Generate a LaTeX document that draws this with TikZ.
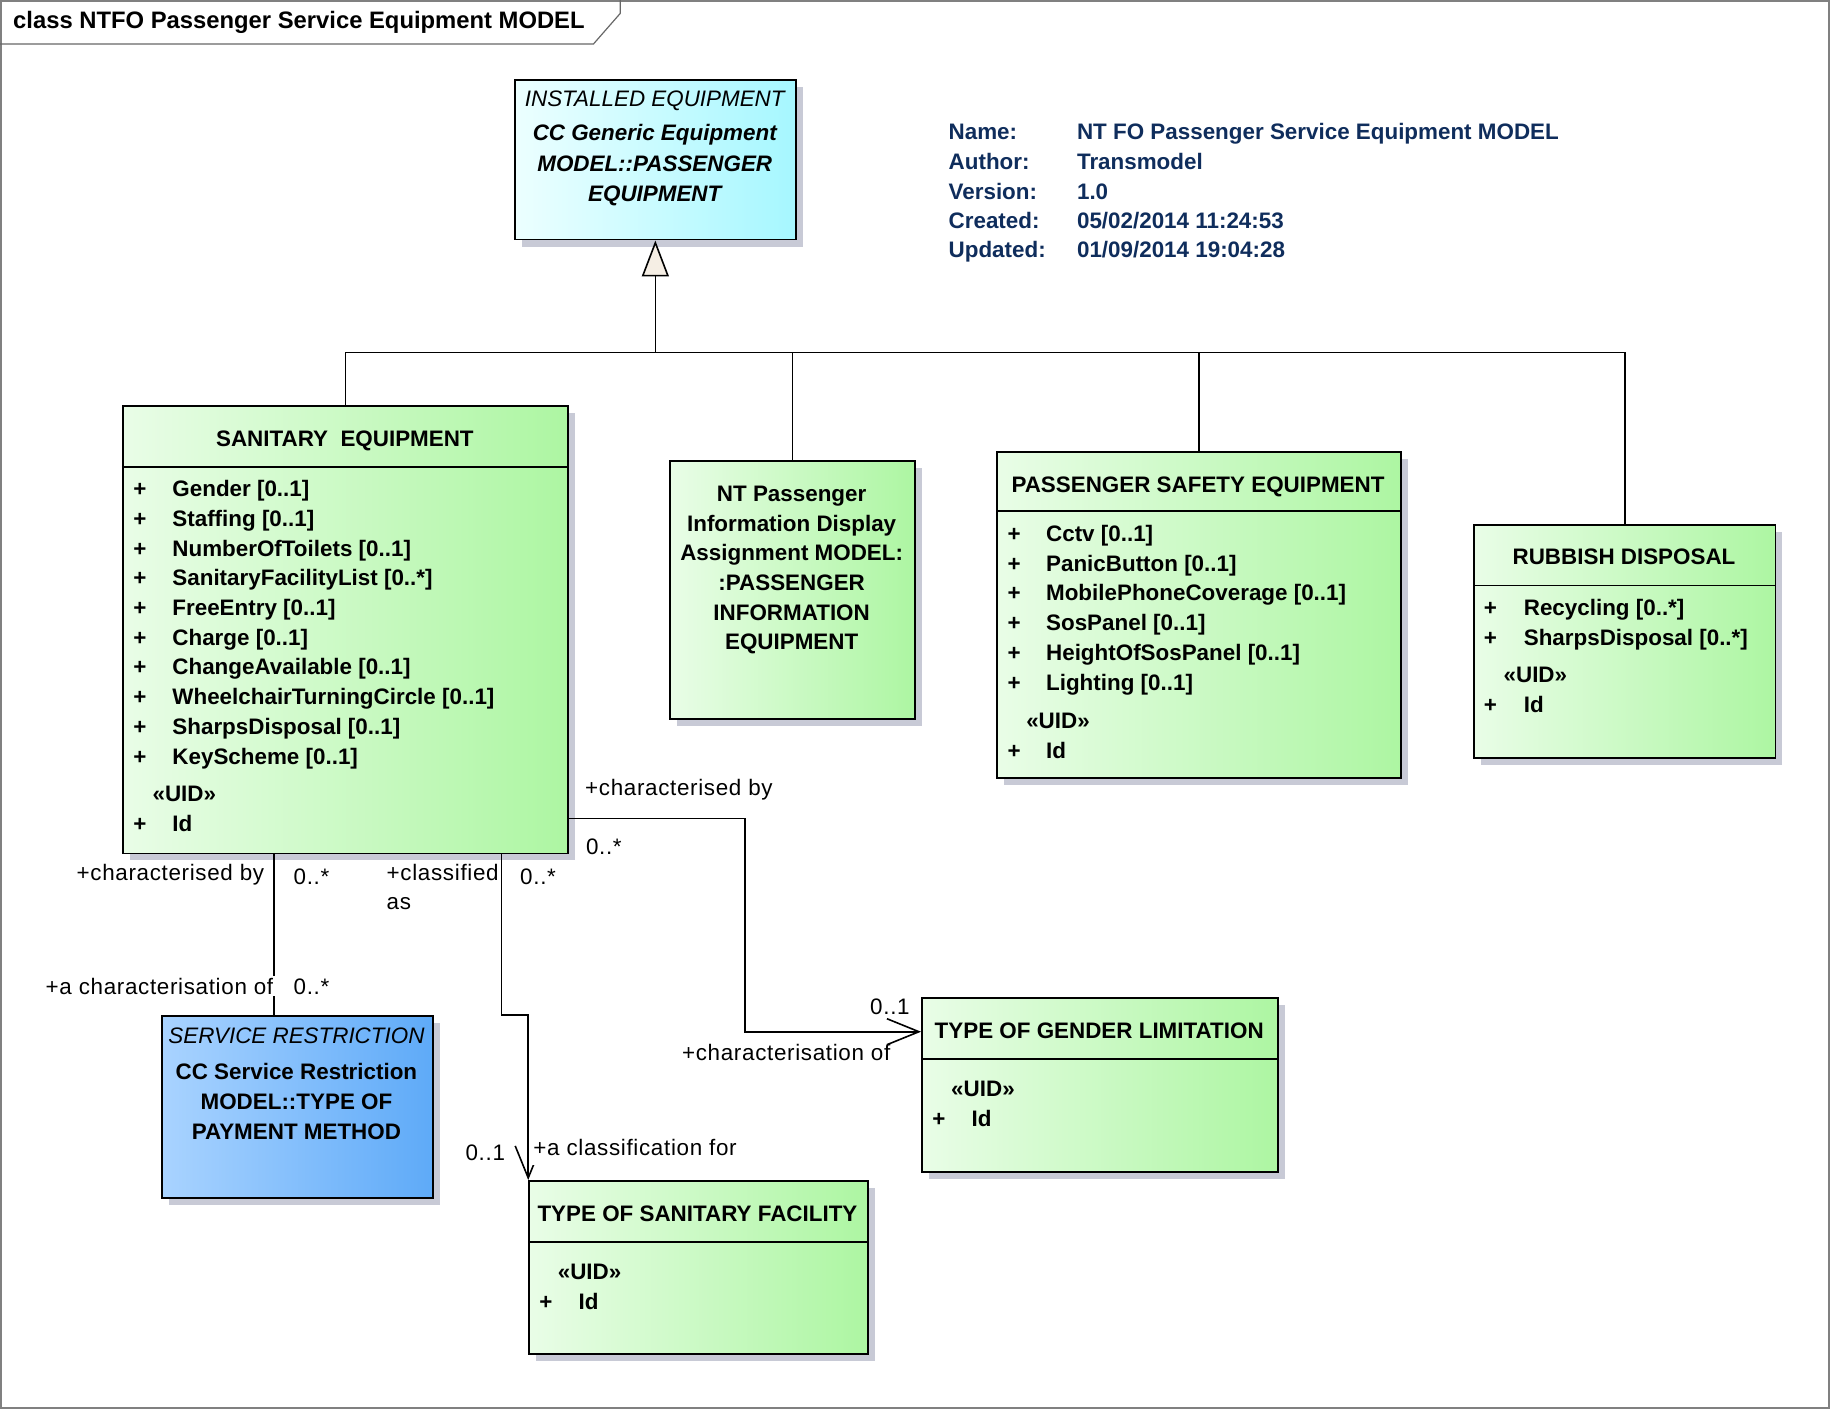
\documentclass[tikz,border=0pt]{standalone}
\usepackage{fontspec}
\setmainfont{Liberation Sans}
\newfontfamily\rolefont[LetterSpace=3]{Liberation Sans}
\usetikzlibrary{arrows.meta,shadows}
\definecolor{gL}{HTML}{E9FDE7}
\definecolor{gR}{HTML}{ADF6A2}
\definecolor{cL}{HTML}{ECFFFF}
\definecolor{cR}{HTML}{A6F7FF}
\definecolor{bL}{HTML}{A9D3FF}
\definecolor{bR}{HTML}{5EAAF8}
\definecolor{shd}{HTML}{C8CAD6}
\definecolor{triF}{HTML}{F5EEE4}
\definecolor{frm}{HTML}{808080}
\definecolor{navy}{HTML}{0F2D5C}
\def\pxu{0.5835pt}
\newcommand\fsz{\fontsize{11.2}{13.4}\selectfont}
\begin{document}
\begin{tikzpicture}[x=0.5835pt, y=-0.5835pt,
  cls/.style={draw=black, line width=0.9pt, inner sep=0pt, anchor=north west,
    drop shadow={shadow xshift=3.5pt, shadow yshift=-3.5pt, fill=shd, opacity=1}},
  grn/.style={left color=gL, right color=gR},
  cyn/.style={left color=cL, right color=cR},
  blu/.style={left color=bL, right color=bR},
  cname/.style={anchor=base, inner sep=0pt, font=\bfseries\fsz},
  iname/.style={anchor=base, inner sep=0pt, font=\itshape\fsz},
  biname/.style={anchor=base, inner sep=0pt, font=\bfseries\itshape\fsz},
  attr/.style={anchor=base west, inner sep=0pt, font=\bfseries\fsz},
  role/.style={anchor=base west, inner sep=0pt, font=\rolefont\fsz},
  roleE/.style={role, anchor=base east},
  cover/.style={fill=white, inner sep=1pt},
  info/.style={anchor=base west, inner sep=0pt, font=\bfseries\fsz, text=navy},
  conn/.style={line width=0.8pt},
  nav/.style={conn, -{Straight Barb[length=16pt, width=13pt]}},
  gen/.style={conn, -{Triangle[length=18pt, width=13.5pt, fill=triF]}},
  divl/.style={line width=0.9pt}]
\useasboundingbox (0,0) rectangle (1568,1207);
% frame
\draw[frm, line width=1.1pt] (0.9,0.9) rectangle (1567.1,1206.1);
\draw[frm!80!black, line width=0.6pt] (0,37.7) -- (508.5,37.7) -- (531.5,11.4) -- (531.5,0);
\node[attr, text=black, font=\bfseries\fontsize{11.9}{14}\selectfont] (ttl) at (11,24.3) {class NTFO Passenger Service Equipment MODEL};

% info
\node[info] (i1) at (812.5,119.4) {Name:};
\node[info] (i2) at (812.5,145.1) {Author:};
\node[info] (i3) at (812.5,170.6) {Version:};
\node[info] (i4) at (812.5,195.7) {Created:};
\node[info] (i5) at (812.5,220.6) {Updated:};
\node[info] (v1) at (922.5,119.4) {NT FO Passenger Service Equipment MODEL};
\node[info] (v2) at (922.5,145.1) {Transmodel};
\node[info] (v3) at (922.5,170.6) {1.0};
\node[info] (v4) at (922.5,195.7) {05/02/2014 11:24:53};
\node[info] (v5) at (922.5,220.6) {01/09/2014 19:04:28};

% boxes
\node[cls,cyn,minimum width=240.5*\pxu,minimum height=137*\pxu] (installed) at (440.5,67.5) {};
\node[cls,grn,minimum width=381.5*\pxu,minimum height=383.5*\pxu] (sanitary) at (104.5,347) {};
\node[cls,grn,minimum width=209.4*\pxu,minimum height=221.6*\pxu] (ntpid) at (573.6,394) {};
\node[cls,grn,minimum width=346*\pxu,minimum height=279.5*\pxu] (pse) at (853.5,386.5) {};
\node[cls,grn,minimum width=258*\pxu,minimum height=200*\pxu] (rubbish) at (1262.5,449) {};
\node[cls,blu,minimum width=232.5*\pxu,minimum height=156*\pxu] (servres) at (138,869.8) {};
\node[cls,grn,minimum width=305.2*\pxu,minimum height=148.5*\pxu] (gender) at (789.2,854.6) {};
\node[cls,grn,minimum width=290.1*\pxu,minimum height=148*\pxu] (sanfac) at (452.6,1011.1) {};

% dividers
\draw[divl] (sanitary.west |- 0,400) -- (sanitary.east |- 0,400);
\draw[divl] (pse.west |- 0,438) -- (pse.east |- 0,438);
\draw[divl] (rubbish.west |- 0,501.6) -- (rubbish.east |- 0,501.6);
\draw[divl] (gender.west |- 0,907.4) -- (gender.east |- 0,907.4);
\draw[divl] (sanfac.west |- 0,1064) -- (sanfac.east |- 0,1064);

% installed equipment
\node[iname] (in1) at (561,90.9) {INSTALLED EQUIPMENT};
\node[biname] (in2) at (561,120.6) {CC Generic Equipment};
\node[biname] (in3) at (561,147.1) {MODEL::PASSENGER};
\node[biname] (in4) at (561,172.3) {EQUIPMENT};

% sanitary equipment
\node[cname] (sn) at (295.5,382.7) {SANITARY\ \ EQUIPMENT};
\foreach \a [count=\i from 0] in {{Gender [0..1]},{Staffing [0..1]},{NumberOfToilets [0..1]},{SanitaryFacilityList [0..*]},{FreeEntry [0..1]},{Charge [0..1]},{ChangeAvailable [0..1]},{WheelchairTurningCircle [0..1]},{SharpsDisposal [0..1]},{KeyScheme [0..1]}}{
  \node[attr] (sp\i) at (114,{425.6+\i*25.45}) {+};
  \node[attr] (sa\i) at (147.4,{425.6+\i*25.45}) {\a};
}
\node[attr] (suid) at (130.4,687) {«UID»};
\node[attr] (spid) at (114,712.7) {+};
\node[attr] (sid) at (147.4,712.7) {Id};

% NT passenger information display
\node[cname] (nt1) at (678.3,429.9) {NT Passenger};
\node[cname] (nt2) at (678.3,455.6) {Information Display};
\node[cname] (nt3) at (678.3,480.4) {Assignment MODEL:};
\node[cname] (nt4) at (678.3,505.6) {:PASSENGER};
\node[cname] (nt5) at (678.3,531.3) {INFORMATION};
\node[cname] (nt6) at (678.3,556.4) {EQUIPMENT};

% passenger safety equipment
\node[cname] (pn) at (1026.5,421.9) {PASSENGER SAFETY EQUIPMENT};
\foreach \a [count=\i from 0] in {{Cctv [0..1]},{PanicButton [0..1]},{MobilePhoneCoverage [0..1]},{SosPanel [0..1]},{HeightOfSosPanel [0..1]},{Lighting [0..1]}}{
  \node[attr] (pp\i) at (863,{464+\i*25.45}) {+};
  \node[attr] (pa\i) at (896,{464+\i*25.45}) {\a};
}
\node[attr] (puid) at (879,624) {«UID»};
\node[attr] (ppid) at (863,649.9) {+};
\node[attr] (pid) at (896,649.9) {Id};

% rubbish disposal
\node[cname] (rn) at (1391.5,484) {RUBBISH DISPOSAL};
\node[attr] (rp1) at (1271,527) {+};
\node[attr] (ra1) at (1305.3,527) {Recycling [0..*]};
\node[attr] (rp2) at (1271,552.7) {+};
\node[attr] (ra2) at (1305.3,552.7) {SharpsDisposal [0..*]};
\node[attr] (ruid) at (1288,584.7) {«UID»};
\node[attr] (rpid) at (1271,610.4) {+};
\node[attr] (rid) at (1305.3,610.4) {Id};

% service restriction
\node[iname] (sr1) at (254,894) {SERVICE RESTRICTION};
\node[cname] (sr2) at (254,924.6) {CC Service Restriction};
\node[cname] (sr3) at (254,950.4) {MODEL::TYPE OF};
\node[cname] (sr4) at (254,976) {PAYMENT METHOD};

% type of gender limitation
\node[cname] (gn) at (941.8,889.7) {TYPE OF GENDER LIMITATION};
\node[attr] (guid) at (814.7,939.7) {«UID»};
\node[attr] (gpid) at (798.5,964.9) {+};
\node[attr] (gid) at (832.2,964.9) {Id};

% type of sanitary facility
\node[cname] (fn) at (597.6,1046.9) {TYPE OF SANITARY FACILITY};
\node[attr] (fuid) at (477.6,1096) {«UID»};
\node[attr] (fpid) at (461.8,1121.7) {+};
\node[attr] (fid) at (495.5,1121.7) {Id};

% generalisation tree
\coordinate (jn) at (0,302);
\draw[conn] (sanitary.north) -- (sanitary.north |- jn) -- (rubbish.north |- jn) -- (rubbish.north);
\draw[conn] (ntpid.north) -- (ntpid.north |- jn);
\draw[conn] (pse.north) -- (pse.north |- jn);
\draw[gen] (installed.south |- jn) -- (installed.south);

% associations
\coordinate (c1) at (235,0);
\draw[conn] (sanitary.south -| c1) -- (servres.north -| c1);
\coordinate (c2) at (429.6,0);
\draw[nav] (sanitary.south -| c2) -- (c2 |- servres.north) -| (sanfac.north west);
\coordinate (c3) at (638.3,884);
\coordinate (c3y) at (0,701.3);
\draw[nav] (sanitary.east |- c3y) -| (c3) -- (gender.west |- c3);

% role labels
\node[roleE] (l1) at (226.7,754) {+characterised by};
\node[role] (l2) at (251.3,757.5) {0..*};
\node[roleE,cover] (l3) at (236.2,851.8) {+a characterisation of};
\node[role] (l4) at (251.3,852) {0..*};
\node[role] (l5) at (331,754) {+classified};
\node[role] (l6) at (331,779) {as};
\node[role] (l7) at (445.4,757.5) {0..*};
\node[role] (l8) at (398.6,994) {0..1};
\node[role,cover,text depth=4pt] (l9) at (455,989.8) {+a classification for};
\node[role] (l10) at (501,681.3) {+characterised by};
\node[role] (l11) at (501.8,731.8) {0..*};
\node[role] (l12) at (745.3,869.1) {0..1};
\node[roleE] (l13) at (763.2,908.3) {+characterisation of};
\end{tikzpicture}
\end{document}
